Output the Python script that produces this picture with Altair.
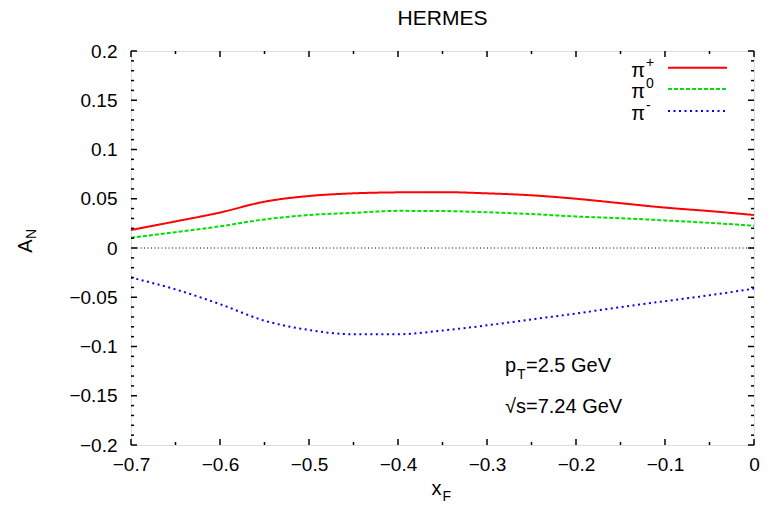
import altair as alt
import pandas as pd
import numpy as np

# Asymmetry curves A_N vs x_F at HERMES kinematics
xf = [-0.70, -0.65, -0.60, -0.55, -0.50, -0.45, -0.40, -0.35, -0.30,
      -0.25, -0.20, -0.15, -0.10, -0.05, 0.00]
an_pip = [0.0183, 0.027, 0.036, 0.047, 0.0528, 0.0555, 0.0565, 0.0567, 0.0555,
          0.0535, 0.050, 0.0455, 0.041, 0.0375, 0.0335]
an_pi0 = [0.0105, 0.016, 0.022, 0.029, 0.0335, 0.0357, 0.0377, 0.0375, 0.0363,
          0.0345, 0.032, 0.0302, 0.028, 0.0255, 0.0226]
an_pim = [-0.030, -0.042, -0.057, -0.0738, -0.0832, -0.0876, -0.0876, -0.0838, -0.0785,
          -0.0725, -0.0665, -0.060, -0.054, -0.048, -0.0412]

series = ["pi+", "pi0", "pi-"]
colors = ["#ff0000", "#00e000", "#0000ff"]
dashes = [[1, 0], [4, 2], [2, 3.5]]

x_major = [-0.7, -0.6, -0.5, -0.4, -0.3, -0.2, -0.1, 0.0]
x_minor = [-0.65, -0.55, -0.45, -0.35, -0.25, -0.15, -0.05]
y_major = [-0.2, -0.15, -0.1, -0.05, 0.0, 0.05, 0.1, 0.15, 0.2]
y_minor = [round(v, 2) for v in np.arange(-0.19, 0.2, 0.01) if round(v * 100) % 5 != 0]

W, H = 623, 394
FONT = "Liberation Sans"
# tick labels use a true minus sign
LABEL_EXPR = "replace(toString(datum.value), '-', '\u2212')"

xs = alt.Scale(domain=[-0.7, 0.0], nice=False, zero=False)
ys = alt.Scale(domain=[-0.2, 0.2], nice=False, zero=False)

rows = []
for name, vals in zip(series, [an_pip, an_pi0, an_pim]):
    for x, v in zip(xf, vals):
        rows.append({"xF": x, "AN": v, "s": name})
df = pd.DataFrame(rows)

curves = alt.Chart(df).mark_line(strokeWidth=2, interpolate="monotone").encode(
    x=alt.X("xF:Q", scale=xs,
            axis=alt.Axis(values=x_major, ticks=False, domain=False, grid=False,
                          labelExpr=LABEL_EXPR, labelFontSize=19, labelFlush=False,
                          labelFont=FONT, labelColor="black", labelPadding=10,
                          title=None)),
    y=alt.Y("AN:Q", scale=ys,
            axis=alt.Axis(values=y_major, ticks=False, domain=False, grid=False,
                          labelExpr=LABEL_EXPR, labelFontSize=19, labelFlush=False,
                          labelFont=FONT, labelColor="black", labelPadding=14,
                          title=None)),
    color=alt.Color("s:N", scale=alt.Scale(domain=series, range=colors), legend=None),
    strokeDash=alt.StrokeDash("s:N", scale=alt.Scale(domain=series, range=dashes), legend=None),
    detail="s:N",
)

zero = alt.Chart(pd.DataFrame({"y": [0.0]})).mark_rule(
    color="black", strokeWidth=1, strokeDash=[1, 2.5]
).encode(y=alt.Y("y:Q", scale=ys))

def xticks(vals, size):
    d = pd.DataFrame({"t": vals})
    b = alt.Chart(d).mark_rule(color="black", strokeWidth=1.5).encode(
        x=alt.X("t:Q", scale=xs), y=alt.value(H), y2=alt.value(H - size))
    t = alt.Chart(d).mark_rule(color="black", strokeWidth=1.5).encode(
        x=alt.X("t:Q", scale=xs), y=alt.value(0), y2=alt.value(size))
    return b + t

def yticks(vals, size):
    d = pd.DataFrame({"t": vals})
    l = alt.Chart(d).mark_rule(color="black", strokeWidth=1.5).encode(
        y=alt.Y("t:Q", scale=ys), x=alt.value(0), x2=alt.value(size))
    r = alt.Chart(d).mark_rule(color="black", strokeWidth=1.5).encode(
        y=alt.Y("t:Q", scale=ys), x=alt.value(W), x2=alt.value(W - size))
    return l + r

ticks = xticks(x_major, 6) + xticks(x_minor, 3) + yticks(y_major, 6) + yticks(y_minor, 3)

def txt(s, x, y, size=19, align="left", baseline="alphabetic", angle=0):
    return alt.Chart(pd.DataFrame({"t": [s]})).mark_text(
        text=s, font=FONT, fontSize=size, align=align, baseline=baseline,
        angle=angle, color="black"
    ).encode(x=alt.value(x), y=alt.value(y))

# legend: sample lines and labels
leg_y = [16.7, 38, 60]
leg_sup = ["+", "0", "-"]
legend = None
for i, name in enumerate(series):
    ln = alt.Chart(pd.DataFrame({"s": [name]})).mark_rule(
        color=colors[i], strokeWidth=2, strokeDash=dashes[i]
    ).encode(x=alt.value(537), x2=alt.value(596), y=alt.value(leg_y[i]))
    pi = txt("π", 514, leg_y[i] + 9, size=20, align="right")
    sup = txt(leg_sup[i], 515, leg_y[i] - 1, size=14, align="left")
    part = ln + pi + sup
    legend = part if legend is None else legend + part

labels = (
    txt("HERMES", W / 2, -26, size=21, align="center")
    + txt("p", 374, 321, size=20) + txt("T", 386, 328, size=14) + txt("=2.5 GeV", 395, 321, size=20)
    + txt("√s=7.24 GeV", 374, 361.7, size=20)
    + txt("x", W / 2 - 6, H + 50, size=20, align="center") + txt("F", W / 2, H + 56, size=14)
    + txt("A", -99, 195, size=20, angle=270, align="center")
    + txt("N", -95, 188, size=14, angle=270, align="left")
)

chart = alt.layer(zero, curves, ticks, legend, labels).properties(
    width=W, height=H,
    autosize=alt.AutoSizeParams(type="none"),
    padding={"left": 131, "top": 51, "right": 14, "bottom": 71},
).configure_view(stroke="black", strokeWidth=2).configure(background="white")

chart.save("out.html", embed_options={"renderer": "svg", "actions": False})
